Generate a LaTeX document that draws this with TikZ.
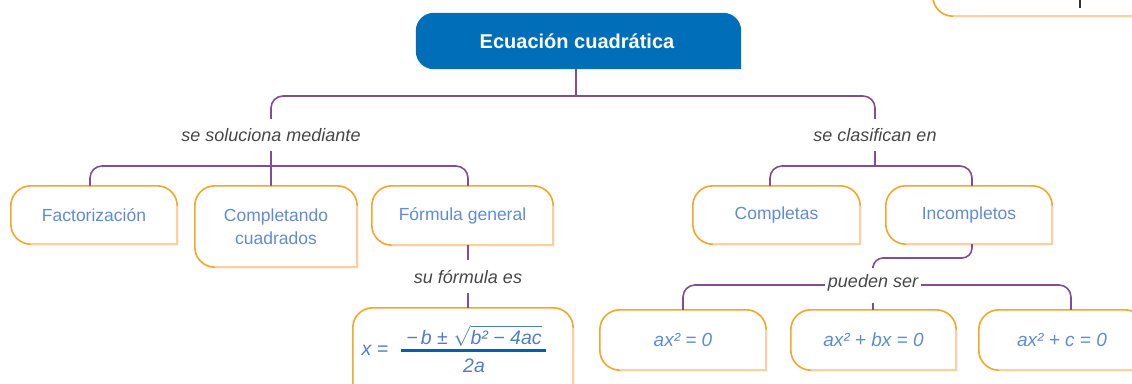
\documentclass[tikz,border=0pt]{standalone}
\usepackage{fontspec}
\setmainfont{Liberation Sans}
\usetikzlibrary{calc}
\definecolor{tblue}{RGB}{0,110,185}
\definecolor{txtblue}{RGB}{95,140,210}
\definecolor{fblue}{RGB}{80,125,200}
\definecolor{oline}{RGB}{246,166,40}
\definecolor{olight}{RGB}{251,208,158}
\definecolor{purp}{RGB}{128,78,152}
\definecolor{lblc}{RGB}{70,70,70}
\definecolor{fbarc}{RGB}{0,96,176}
\definecolor{tickc}{RGB}{50,50,50}

\tikzset{
  conn/.style={draw=purp, line width=1.6pt, rounded corners=12pt},
  obox/.style={inner sep=0pt, text=txtblue, font=\fontsize{17.5}{23}\selectfont, align=center},
  eqtext/.style={font=\fontsize{19}{23}\selectfont\itshape},
  titlebox/.style={inner sep=0pt, text=white, font=\fontsize{20}{24}\selectfont\bfseries},
  lbltext/.style={inner sep=0pt, text=lblc, font=\fontsize{18}{20}\selectfont\itshape, minimum height=32pt},
  ftext/.style={inner sep=0pt, text=fblue, font=\fontsize{19.5}{22}\selectfont\itshape},
}

\newcommand\oboxdraw[2][20]{%
  \draw[oline, line width=1.6pt] (#2.south east) -- ([xshift=#1pt]#2.south west)
    arc[start angle=270,end angle=180,radius=#1pt] -- ([yshift=-#1pt]#2.north west)
    arc[start angle=180,end angle=90,radius=#1pt] -- ([xshift=-#1pt]#2.north east)
    arc[start angle=90,end angle=0,radius=#1pt] -- cycle;
  \draw[olight, line width=1.6pt] ([yshift=-#1pt]#2.north east) -- (#2.south east) -- ([xshift=#1pt]#2.south west);
}
\newcommand\tboxfill[2][18]{%
  \fill[tblue] (#2.south east) -- ([xshift=#1pt]#2.south west)
    arc[start angle=270,end angle=180,radius=#1pt] -- ([yshift=-#1pt]#2.north west)
    arc[start angle=180,end angle=90,radius=#1pt] -- ([xshift=-#1pt]#2.north east)
    arc[start angle=90,end angle=0,radius=#1pt] -- cycle;
}

\begin{document}
\begin{tikzpicture}[x=1pt,y=-1pt]
\useasboundingbox (0,0) rectangle (1132,383);
\clip (0,0) rectangle (1132,383);

% title
\node[titlebox, minimum width=325pt, minimum height=56pt] (title) at (578.5,41) {};
\tboxfill{title}
\node[titlebox] (titletext) at (577,41) {Ecuación cuadrática};

% partial box at top right
\node[minimum width=254pt, minimum height=72pt, inner sep=0pt] (topbox) at (1060,-20) {};
\oboxdraw{topbox}
\coordinate (tk1) at (1080,0);
\coordinate (tk2) at (1080,8);
\draw[tickc, line width=1.4pt] (tk1) -- (tk2);

% boxes
\node[obox, minimum width=166pt, minimum height=58pt] (fact) at (94,215) {Factorización};
\node[obox, minimum width=162pt, minimum height=81pt] (comp) at (276,226.5) {Completando\\cuadrados};
\node[obox, minimum width=181pt, minimum height=59pt] (form) at (462.5,215.5) {Fórmula general};
\node[obox, minimum width=167pt, minimum height=58pt] (compl) at (776.5,215) {Completas};
\node[obox, minimum width=166pt, minimum height=58pt] (incomp) at (969,215) {Incompletos};
\node[obox, eqtext, minimum width=166pt, minimum height=60pt] (a1) at (683,340) {ax² = 0};
\node[obox, eqtext, minimum width=165pt, minimum height=60pt] (a2) at (873.5,340) {ax² + bx = 0};
\node[obox, eqtext, minimum width=166pt, minimum height=60pt] (a3) at (1062,340) {ax² + c = 0};
\node[obox, minimum width=220pt, minimum height=100pt] (formula) at (463,358) {};
\foreach \b in {fact,comp,form,compl,incomp,a1,a2,a3,formula}{\oboxdraw{\b}}

% formula
\node[ftext] (fx) at (375,350) {x =};
\node[ftext] (fnum) at (474,336) {−\,b ± $\sqrt{\mbox{\itshape b² − 4ac}}$};
\node[ftext] (fden) at (474,366) {2a};
\draw[fbarc, line width=3pt] ([xshift=-5pt]fnum.west |- fx.center) -- ([xshift=4pt]fnum.east |- fx.center);

% labels
\node[lbltext] (l1) at (271,135) {se soluciona mediante};
\node[lbltext] (l2) at (875,135) {se clasifican en};
\node[lbltext, minimum height=33pt] (l3) at (468,276.5) {su fórmula es};
\node[lbltext, minimum height=34pt, inner xsep=3pt] (l4) at (873,283) {pueden ser};

% connectors
\coordinate (ts) at ([xshift=-2.5pt]title.south);
\coordinate (j1) at (ts |- 0,96);
\draw[conn] (ts) -- (j1);
\draw[conn] (j1) -| (l1.north);
\draw[conn] (j1) -| (l2.north);

\coordinate (j2) at (l1.south |- 0,166);
\draw[conn] (l1.south) -- ([xshift=-5pt]comp.north);
\draw[conn] (j2) -| ([xshift=-4pt]fact.north);
\draw[conn] (j2) -| ([xshift=5.5pt]form.north);

\draw[conn] ([xshift=5.5pt]form.south) -- (l3.north);
\draw[conn] (l3.south) -- ([xshift=5pt]formula.north);

\coordinate (j3) at (l2.south |- 0,166);
\draw[conn] (l2.south) -- (j3);
\draw[conn] (j3) -| ([xshift=-6.5pt]compl.north);
\draw[conn] (j3) -| ([xshift=3pt]incomp.north);

\draw[conn, rounded corners=10pt] ([xshift=3pt]incomp.south) |- (l4.north |- 0,258) -- (l4.north);
\draw[conn] ([yshift=-2pt]l4.west) -| (a1.north);
\draw[conn] ([yshift=-2pt]l4.east) -| ([xshift=9pt]a3.north);
\draw[conn] ([yshift=-3pt]l4.south) -- (l4.south |- a2.north);
\end{tikzpicture}
\end{document}
